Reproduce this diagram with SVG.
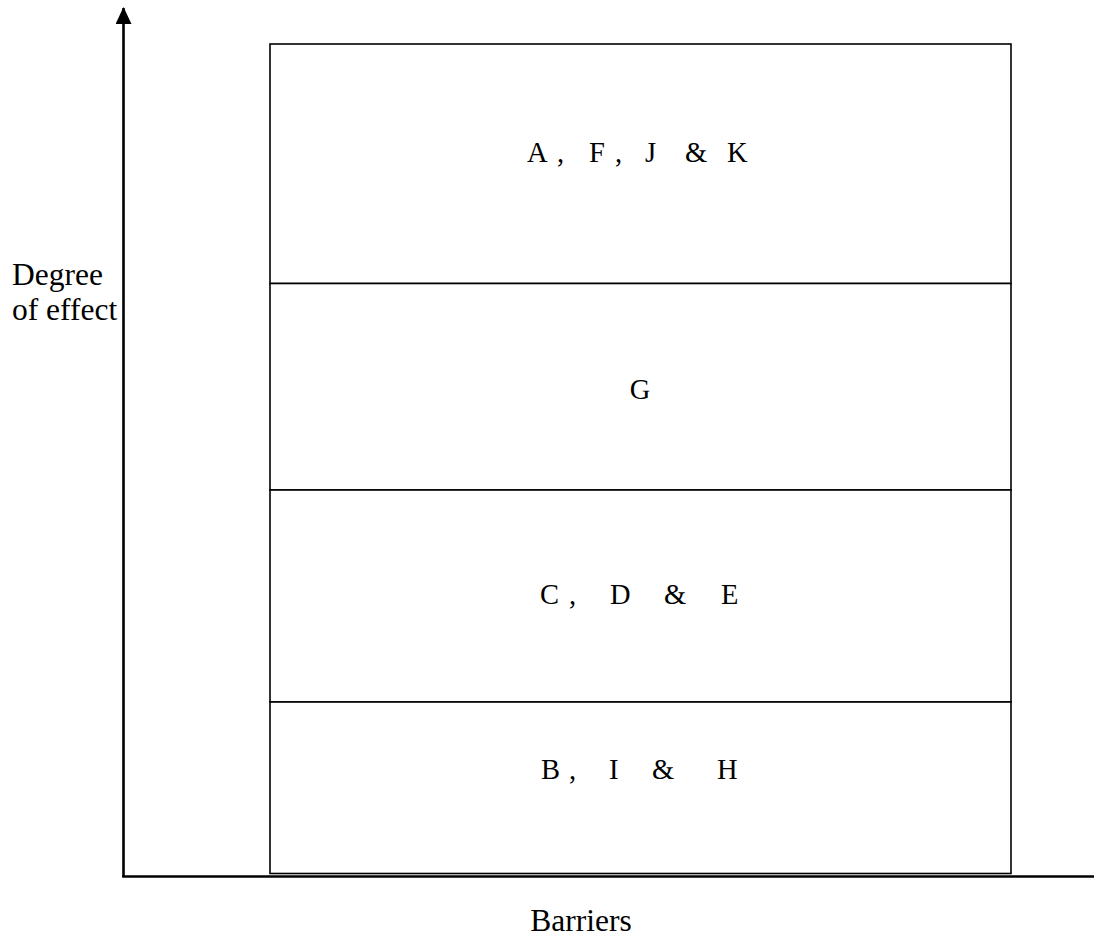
<svg xmlns="http://www.w3.org/2000/svg" width="1094" height="938" viewBox="0 0 1094 938">
  <style>
    .axis { stroke: #000; stroke-width: 2.6; fill: none; }
    .band { stroke: #000; stroke-width: 1.6; fill: #fff; }
    .lbl { font-family: "Liberation Serif", "Times New Roman", serif; font-size: 28.5px; fill: #000; }
    .ax { font-family: "Liberation Serif", "Times New Roman", serif; font-size: 31.5px; fill: #000; }
  </style>
  <defs>
    <marker id="arrowhead" markerUnits="userSpaceOnUse" markerWidth="17" markerHeight="16" refX="16" refY="8" orient="auto" viewBox="0 0 17 16">
      <path d="M0,0 L17,8 L0,16 Z" fill="#000"/>
    </marker>
  </defs>

  <!-- stacked bands -->
  <g id="band-AFJK">
    <rect class="band" x="270" y="44" width="741" height="239.5"/>
    <text class="lbl" y="162"><tspan x="527">A</tspan><tspan x="557">,</tspan><tspan x="589">F</tspan><tspan x="615">,</tspan><tspan x="645">J</tspan><tspan x="685">&amp;</tspan><tspan x="727">K</tspan></text>
  </g>
  <g id="band-G">
    <rect class="band" x="270" y="283.5" width="741" height="206.5"/>
    <text class="lbl" x="640" y="399" text-anchor="middle">G</text>
  </g>
  <g id="band-CDE">
    <rect class="band" x="270" y="490" width="741" height="212"/>
    <text class="lbl" y="604"><tspan x="540">C</tspan><tspan x="569">,</tspan><tspan x="610">D</tspan><tspan x="664">&amp;</tspan><tspan x="721">E</tspan></text>
  </g>
  <g id="band-BIH">
    <rect class="band" x="270" y="702" width="741" height="171.5"/>
    <text class="lbl" y="779"><tspan x="541">B</tspan><tspan x="569">,</tspan><tspan x="609">I</tspan><tspan x="652">&amp;</tspan><tspan x="717">H</tspan></text>
  </g>

  <!-- axes -->
  <g id="connectors">
    <line class="axis" x1="123.5" y1="877" x2="123.5" y2="8" marker-end="url(#arrowhead)"/>
    <line class="axis" x1="122.2" y1="876.5" x2="1094" y2="876.5"/>
  </g>

  <g id="axis-labels">
    <text class="ax" x="12" y="285">Degree</text>
    <text class="ax" x="12" y="320">of effect</text>
    <text class="ax" x="581" y="931" text-anchor="middle">Barriers</text>
  </g>
</svg>
